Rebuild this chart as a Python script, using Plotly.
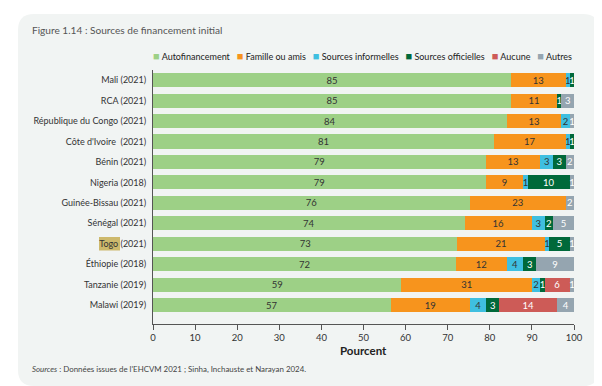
import plotly.graph_objects as go

countries = ["Mali (2021)", "RCA (2021)", "République du Congo (2021)", "Côte d'Ivoire  (2021)",
             "Bénin (2021)", "Nigeria (2018)", "Guinée-Bissau (2021)", "Sénégal (2021)",
             "Togo (2021)", "Éthiopie (2018)", "Tanzanie (2019)", "Malawi (2019)"]

autofinancement = [85, 85, 84, 81, 79, 79, 76, 74, 73, 72, 59, 57]
famille = [13, 11, 13, 17, 13, 9, 23, 16, 21, 12, 31, 19]
informelles = [1, 0, 2, 1, 3, 1, 0, 3, 1, 4, 2, 4]
officielles = [1, 1, 0, 1, 3, 10, 0, 2, 5, 3, 1, 3]
aucune = [0, 0, 0, 0, 0, 0, 0, 0, 0, 0, 6, 14]
autres = [0, 3, 1, 0, 2, 1, 2, 5, 1, 9, 1, 4]

series_names = ["Autofinancement", "Famille ou amis", "Sources informelles",
                "Sources officielles", "Aucune", "Autres"]
series_values = [autofinancement, famille, informelles, officielles, aucune, autres]
series_colors = ["#9dd086", "#f7941d", "#3fbfe0", "#00693a", "#cd5b57", "#95a5b0"]
label_colors = ["#333333", "#333333", "#333333", "#ffffff", "#ffffff", "#ffffff"]

x_ticks = list(range(0, 101, 10))

FONT = "Lato, sans-serif"
REG = "Lato, Open Sans, sans-serif"

W, H = 602, 386
L, R, T, B = 145, 36, 62, 70
pw, ph = W - L - R, H - T - B


def px(x):
    return (x - L) / pw


def py(y):
    return (H - B - y) / ph


fig = go.Figure()
for name, vals, color, tcolor in zip(series_names, series_values, series_colors, label_colors):
    fig.add_trace(go.Bar(
        y=countries, x=vals, name=name, orientation="h",
        marker=dict(color=color, line=dict(width=0)),
        text=[str(v) if v else "" for v in vals],
        textposition="inside", insidetextanchor="middle", textangle=0,
        textfont=dict(color=tcolor, size=9.5, family=FONT),
        showlegend=False,
    ))

# rounded panel
x0, y0, x1, y1, r = 10, 6, 591, 378, 16
path = (f"M {px(x0+r)},{py(y0)} L {px(x1-r)},{py(y0)} Q {px(x1)},{py(y0)} {px(x1)},{py(y0+r)} "
        f"L {px(x1)},{py(y1-r)} Q {px(x1)},{py(y1)} {px(x1-r)},{py(y1)} "
        f"L {px(x0+r)},{py(y1)} Q {px(x0)},{py(y1)} {px(x0)},{py(y1-r)} "
        f"L {px(x0)},{py(y0+r)} Q {px(x0)},{py(y0)} {px(x0+r)},{py(y0)} Z")
shapes = [
    dict(type="path", path=path, xref="paper", yref="paper",
         fillcolor="#f1f4f3", line=dict(width=0), layer="below"),
    # highlight behind "Togo"
    dict(type="rect", xref="paper", yref="paper", x0=px(91), x1=px(112),
         y0=py(242.5), y1=py(229), fillcolor="#cdb96c", line=dict(width=0), layer="below"),
]

# legend as one line of text: coloured squares + names
NB = "\u00a0"
legend_parts = []
for name, color in zip(series_names, series_colors):
    legend_parts.append(f"<span style='color:{color};font-size:11px'>■</span>{NB}{name}")
legend_text = (NB * 3).join(legend_parts)

annotations = [
    dict(text="Figure 1.14 : Sources de financement initial", x=px(22), y=py(22),
         xref="paper", yref="paper", showarrow=False, xanchor="left", yanchor="middle",
         font=dict(family=REG, size=10.1, color="#555555")),
    dict(text=legend_text, x=px(354), y=py(47), xref="paper", yref="paper",
         showarrow=False, xanchor="center", yanchor="middle",
         font=dict(family=FONT, size=9, color="#222222")),
    dict(text="<b>Pourcent</b>", x=0.5, y=py(342), xref="paper", yref="paper",
         showarrow=False, font=dict(family=FONT, size=11.5, color="#222222"),
         xanchor="center", yanchor="middle"),
    dict(text="<i>Sources</i> : Données issues de l'EHCVM 2021 ; Sinha, Inchauste et Narayan 2024.",
         x=px(22), y=py(361), xref="paper", yref="paper", showarrow=False,
         font=dict(family=REG, size=7.9, color="#444444"),
         xanchor="left", yanchor="middle"),
]

fig.update_layout(
    width=W, height=H,
    margin=dict(l=L, r=R, t=T, b=B),
    paper_bgcolor="white", plot_bgcolor="rgba(0,0,0,0)",
    barmode="stack", barnorm="percent", bargap=0.31,
    font=dict(family=FONT, color="#333333", size=10),
    showlegend=False,
    uniformtext=dict(minsize=9.5, mode="show"),
    shapes=shapes,
    annotations=annotations,
)

fig.update_xaxes(range=[0, 100], tickvals=x_ticks, ticks="outside", ticklen=5,
                 tickcolor="#555555", showline=True, linecolor="#555555", linewidth=1,
                 showgrid=False, zeroline=False, tickfont=dict(size=9.5, family=FONT, color="#333333"))
fig.update_yaxes(categoryorder="array", categoryarray=countries,
                 range=[11.93, -0.5], showline=True, linecolor="#555555", linewidth=1,
                 showgrid=False, ticks="", ticklabelstandoff=4,
                 tickfont=dict(size=9, family=FONT, color="#333333"))

fig.write_html("out.html")
